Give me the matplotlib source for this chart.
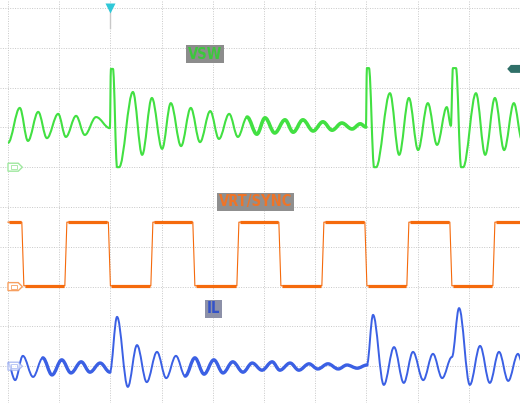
import matplotlib
matplotlib.use("Agg")
import matplotlib.pyplot as plt
from matplotlib.path import Path
from matplotlib.patches import PathPatch, Polygon

# Lecturas de la pantalla del osciloscopio, en divisiones (x: 0..10, y: centro = 0)

# VSW (verde): extremos de la oscilación
vsw_t = [0.00, 0.23, 0.39, 0.59, 0.76, 0.98, 1.13, 1.33, 1.50, 1.72, 1.99, 2.01, 2.05, 2.13, 2.17,
         2.44, 2.62, 2.81, 3.01, 3.18, 3.38, 3.57, 3.75, 3.95, 4.12, 4.32, 4.49, 4.67, 4.86, 5.02,
         5.21, 5.41, 5.57, 5.76, 5.96, 6.15, 6.33, 6.52, 6.72, 6.88, 6.99, 7.01, 7.05, 7.15, 7.19,
         7.46, 7.64, 7.83, 8.01, 8.20, 8.38, 8.57, 8.65, 8.69, 8.75, 8.85, 8.89, 9.14, 9.32, 9.51,
         9.69, 9.88, 10.04]
vsw_v = [1.61, 2.49, 1.66, 2.39, 1.73, 2.34, 1.76, 2.29, 1.81, 2.26, 1.98, 3.47, 3.47, 1.00, 1.00,
         2.89, 1.31, 2.74, 1.46, 2.61, 1.53, 2.49, 1.63, 2.41, 1.71, 2.34, 1.76, 2.26, 1.83, 2.24,
         1.86, 2.19, 1.88, 2.19, 1.91, 2.14, 1.93, 2.11, 1.96, 2.09, 2.01, 3.49, 3.49, 1.00, 1.00,
         2.86, 1.31, 2.74, 1.43, 2.61, 1.56, 2.51, 2.04, 3.49, 3.49, 1.00, 1.00, 2.86, 1.31, 2.74,
         1.43, 2.61, 1.68]

# IL (azul): extremos de la corriente en la bobina
il_t = [0.00, 0.14, 0.29, 0.49, 0.68, 0.86, 1.05, 1.23, 1.43, 1.60, 1.80, 1.99, 2.13, 2.34, 2.52,
        2.71, 2.91, 3.09, 3.28, 3.46, 3.65, 3.83, 4.02, 4.20, 4.39, 4.59, 4.77, 4.96, 5.16, 5.31,
        5.51, 5.68, 5.88, 6.05, 6.25, 6.45, 6.62, 6.82, 7.01, 7.13, 7.34, 7.54, 7.73, 7.91, 8.11,
        8.30, 8.48, 8.67, 8.81, 9.02, 9.22, 9.41, 9.59, 9.77, 9.96, 10.04]
il_v = [-3.92, -4.35, -3.74, -4.27, -3.79, -4.22, -3.84, -4.17, -3.89, -4.15, -3.92, -4.15, -2.76, -4.52, -3.47,
        -4.40, -3.64, -4.30, -3.74, -4.25, -3.79, -4.20, -3.84, -4.17, -3.89, -4.15, -3.92, -4.10, -3.89, -4.10,
        -3.92, -4.10, -3.94, -4.07, -3.94, -4.07, -3.97, -4.05, -3.97, -2.71, -4.47, -3.52, -4.42, -3.64, -4.35,
        -3.69, -4.30, -3.77, -2.54, -4.47, -3.49, -4.42, -3.64, -4.37, -3.69, -3.90]

# VRT/SYNC (naranja): niveles y flancos
sync_alto = -0.38
sync_bajo = -1.98
sync_bajadas = [0.27, 1.96, 3.61, 5.29, 6.97, 8.63]
sync_subidas = [1.11, 2.79, 4.47, 6.13, 7.79, 9.47]

# Referencias de canal (marcas a la izquierda)
ref_canales = {"vsw": 1.0, "sync": -2.0, "il": -4.0}

etiquetas = [("VSW", 3.85, 3.84, "#3cc83c", "#8c8c8c"),
             ("VRT/SYNC", 4.84, 0.13, "#ee7428", "#8f8f8f"),
             ("IL", 4.02, -2.56, "#3352c8", "#8c90a8")]

VERDE = "#42e042"
NARANJA = "#f56a0c"
AZUL = "#3b60e4"


def camino_bezier(xs, ys):
    """Une los puntos leídos con tramos Bezier de tangente horizontal."""
    k = 0.36
    verts = [(xs[0], ys[0])]
    codes = [Path.MOVETO]
    for i in range(len(xs) - 1):
        x0, y0, x1, y1 = xs[i], ys[i], xs[i + 1], ys[i + 1]
        dx = x1 - x0
        verts += [(x0 + k * dx, y0), (x1 - k * dx, y1), (x1, y1)]
        codes += [Path.CURVE4] * 3
    return Path(verts, codes)


def trazo(ax, xs, ys, color, lw, lw_ruido, umbral=0.47):
    ax.add_patch(PathPatch(camino_bezier(xs, ys), fill=False, edgecolor=color,
                           lw=lw, joinstyle="round", zorder=2))
    # zonas de poca amplitud: el ruido engorda la traza
    i = 0
    n = len(xs)
    while i < n - 1:
        if abs(ys[i + 1] - ys[i]) < umbral:
            j = i
            while j < n - 1 and abs(ys[j + 1] - ys[j]) < umbral:
                j += 1
            if j - i >= 3:
                ax.add_patch(PathPatch(camino_bezier(xs[i:j + 1], ys[i:j + 1]), fill=False,
                                       edgecolor=color, lw=lw_ruido, joinstyle="round",
                                       capstyle="round", zorder=2))
            i = j
        else:
            i += 1


fig = plt.figure(figsize=(5.2, 4.03), dpi=100)
fig.patch.set_facecolor("white")
ax = fig.add_axes([0, 0, 1, 1])
ax.set_xlim(-8 / 51.2, 512 / 51.2)
ax.set_ylim(-196 / 39.8, 207 / 39.8)
ax.axis("off")

# Retícula punteada
for gx in range(0, 11):
    ax.axvline(gx, color="#c8c8c8", lw=0.7, ls=(0, (1, 1.5)), zorder=0)
for gy in range(-5, 6):
    ax.axhline(gy, color="#c8c8c8", lw=0.7, ls=(0, (1, 1.5)), zorder=0)
ax.axvline(2.0, ymin=0.93, ymax=0.985, color="#c8c8c8", lw=1.0, zorder=0)

# VSW
trazo(ax, vsw_t, vsw_v, VERDE, lw=1.5, lw_ruido=2.6)

# VRT/SYNC: cuadrada construida con los flancos leídos
flanco = 0.04
xs = [0.0]
ys = [sync_alto]
for b, s in zip(sync_bajadas, sync_subidas):
    xs += [b, b + flanco, s, s + flanco]
    ys += [sync_alto, sync_bajo, sync_bajo, sync_alto]
xs.append(10.05)
ys.append(sync_alto)
ax.plot(xs, ys, color=NARANJA, lw=0.8, zorder=2)
for i in range(len(xs) - 1):
    if ys[i] == ys[i + 1]:
        ax.plot([xs[i] + 0.02, xs[i + 1] - 0.02], [ys[i], ys[i + 1]],
                color=NARANJA, lw=2.3, solid_capstyle="butt", zorder=2)

# IL
trazo(ax, il_t, il_v, AZUL, lw=1.4, lw_ruido=2.4)

# Marcas de referencia de canal
for nombre, col, alfa in [("vsw", "#9fe89f", 1.0), ("sync", "#f7a060", 1.0), ("il", "#8fa4ee", 0.7)]:
    y0 = ref_canales[nombre]
    pts = [(0.0, y0 + 0.1), (0.2, y0 + 0.1), (0.28, y0), (0.2, y0 - 0.1), (0.0, y0 - 0.1)]
    ax.add_patch(Polygon(pts, closed=True, fc="white", ec=col, lw=1.0, alpha=alfa, zorder=3))
    ax.add_patch(Polygon([(0.05, y0 + 0.05), (0.17, y0 + 0.05), (0.17, y0 - 0.05), (0.05, y0 - 0.05)],
                         closed=True, fc="none", ec=col, lw=0.6, alpha=alfa, zorder=3))

# Marca derecha (nivel de disparo)
ax.add_patch(Polygon([(9.75, 3.47), (9.82, 3.57), (10.05, 3.57), (10.05, 3.37), (9.82, 3.37)],
                     closed=True, fc="#2f6f68", ec="none", zorder=4))

# Marca de disparo superior
ax.plot([2.0], [5.0], marker="v", ms=7, color="#30c8d8", mec="none", zorder=4)

# Etiquetas de canal
for texto, x, y, ctxt, cfondo in etiquetas:
    ax.text(x, y, texto, color=ctxt, fontsize=10.5, fontweight="bold", fontstretch="condensed",
            family="DejaVu Sans", ha="center", va="center", zorder=5,
            bbox=dict(boxstyle="square,pad=0.12", fc=cfondo, ec="none"))

fig.savefig("out.png", dpi=100)
